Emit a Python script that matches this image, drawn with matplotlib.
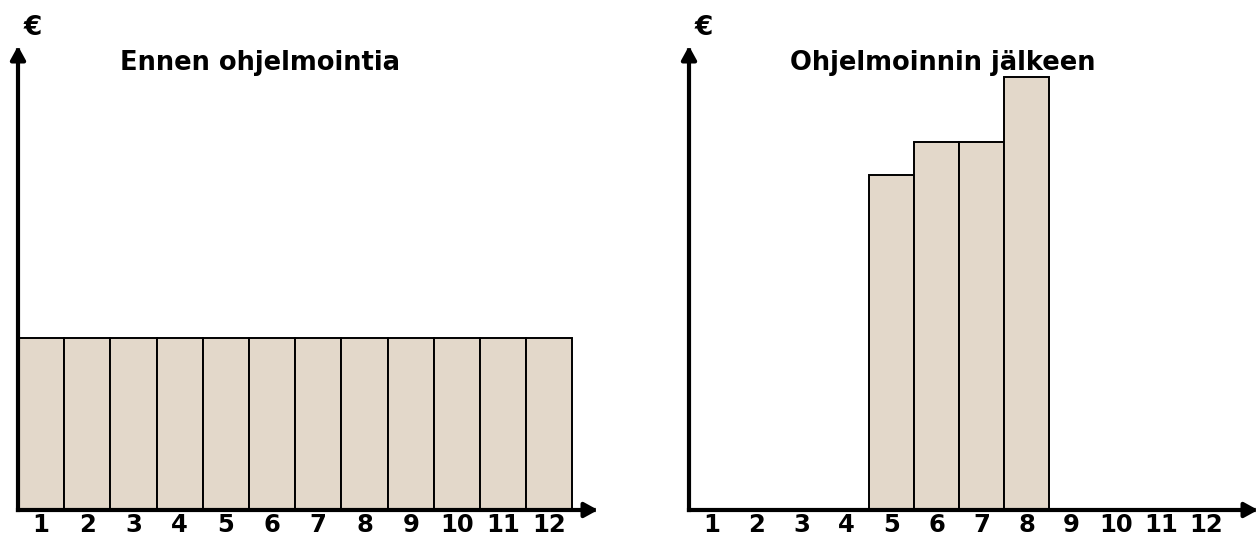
import numpy as np
import matplotlib
matplotlib.use("Agg")
import matplotlib.pyplot as plt

plt.rcParams['font.family'] = ['DejaVu Sans']
plt.rcParams['font.weight'] = 'bold'

# data
months = list(range(1, 13))
month_labels = [str(m) for m in months]
before = [172] * 12                                   # Ennen ohjelmointia
after = [0, 0, 0, 0, 335, 368, 368, 433, 0, 0, 0, 0]  # Ohjelmoinnin jälkeen
titles = ["Ennen ohjelmointia", "Ohjelmoinnin jälkeen"]
ylabel = "€"

bar_color = "#e3d8ca"

fig = plt.figure(figsize=(12.6, 5.39), dpi=100)
ax1 = fig.add_axes([18 / 1260, 29 / 539, 580 / 1260, 464 / 539])
ax2 = fig.add_axes([689 / 1260, 29 / 539, 569 / 1260, 464 / 539])


def draw(ax, vals, title, xmax, title_x):
    ax.bar(months, vals, width=1.0, color=bar_color, edgecolor="black",
           linewidth=1.4, zorder=1)
    ax.set_xlim(0.5, xmax)
    ax.set_ylim(0, 464)
    for s in ax.spines.values():
        s.set_visible(False)
    ax.set_yticks([])
    ax.set_xticks(months)
    ax.set_xticklabels(month_labels, fontsize=17.5, fontweight="heavy")
    ax.tick_params(axis="x", length=0, pad=2)
    # axis arrows
    ap = dict(arrowstyle="-|>,head_length=0.4,head_width=0.22", lw=3,
              color="black", shrinkA=0, shrinkB=0, mutation_scale=20,
              capstyle="projecting")
    ax.annotate("", xy=(1, 0), xytext=(0, 0), xycoords="axes fraction",
                textcoords="axes fraction", arrowprops=ap, zorder=5)
    ax.annotate("", xy=(0, 1), xytext=(0, 0), xycoords="axes fraction",
                textcoords="axes fraction", arrowprops=ap, zorder=5)
    ax.text(title_x, 0.963, title, transform=ax.transAxes, ha="center",
            va="center", fontsize=18.5, fontweight="heavy")
    ax.text(0.026, 1.038, ylabel, transform=ax.transAxes, ha="center",
            va="center", fontsize=19, fontweight="heavy")


draw(ax1, before, titles[0], 0.5 + 580 / 46.2, 0.417)
draw(ax2, after, titles[1], 0.5 + 569 / 45, 0.446)

fig.savefig("out.png", dpi=100)
